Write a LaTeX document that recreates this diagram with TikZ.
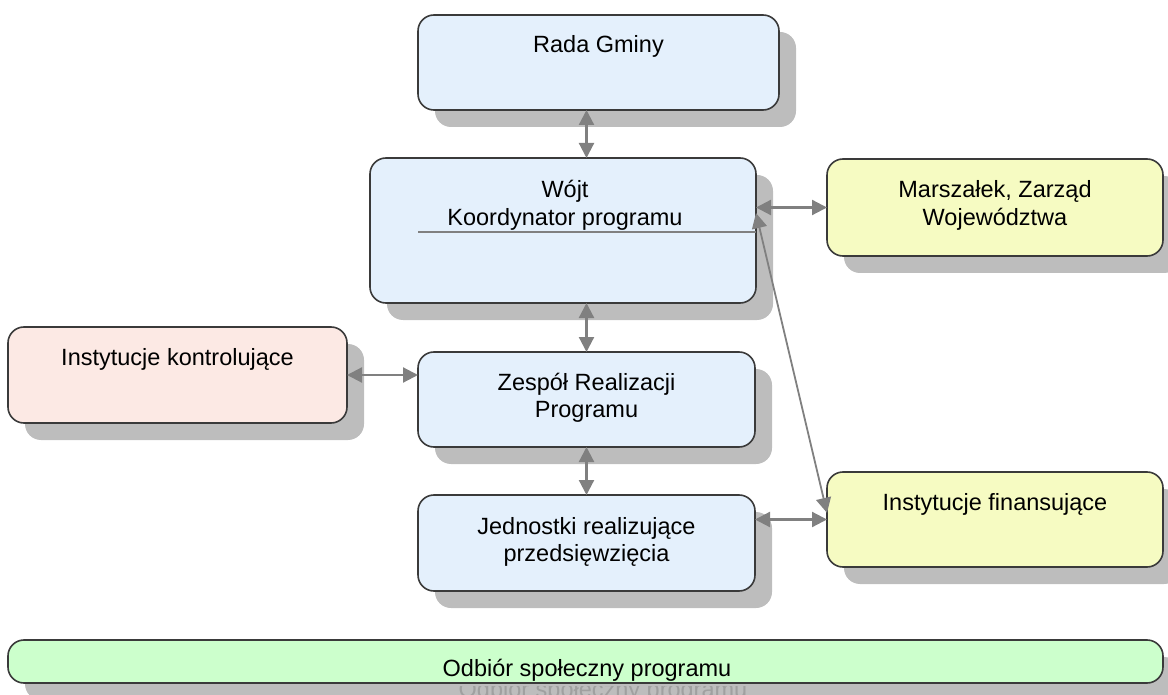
\documentclass[tikz,border=0pt]{standalone}
\usepackage{fontspec}
\setmainfont{Liberation Sans}
\usetikzlibrary{shadows,arrows.meta,calc}
\definecolor{boxblue}{HTML}{E4F0FC}
\definecolor{boxyellow}{HTML}{F6FBC2}
\definecolor{boxpink}{HTML}{FCE9E4}
\definecolor{boxgreen}{HTML}{CCFFCC}
\definecolor{shadowgray}{HTML}{BDBDBD}
\definecolor{arrowgray}{HTML}{808080}
\definecolor{bordergray}{HTML}{3A3A3A}
\definecolor{ghostgray}{HTML}{A0A0A0}
\begin{document}
\begin{tikzpicture}[x=1pt,y=-1pt,
  box/.style={rectangle, rounded corners=16pt, draw=bordergray, line width=1.6pt,
    inner sep=0pt, outer sep=0pt,
    drop shadow={shadow xshift=17pt, shadow yshift=-17pt, fill=shadowgray, opacity=1}},
  bluebox/.style={box, fill=boxblue},
  yellowbox/.style={box, fill=boxyellow},
  pinkbox/.style={box, fill=boxpink},
  greenbox/.style={box, fill=boxgreen},
  txt/.style={font=\fontsize{23.5}{27.5}\selectfont, align=center, inner sep=0pt, anchor=base, text=black},
  conn/.style={draw=arrowgray, line width=2.2pt, {Triangle[length=15pt,width=15pt]}-{Triangle[length=15pt,width=15pt]}},
  diag/.style={draw=arrowgray, line width=1.8pt, {Triangle[length=15pt,width=15pt]}-{Triangle[length=15pt,width=15pt]}},
  sepline/.style={draw=arrowgray, line width=1.5pt}]
\useasboundingbox (0,0) rectangle (1168,695);

% boxes
\node[bluebox, minimum width=361pt, minimum height=95pt] (rada) at (598.5,62.5) {};
\node[bluebox, minimum width=386pt, minimum height=145pt] (wojt) at (563,230.5) {};
\node[yellowbox, minimum width=336pt, minimum height=97pt] (marsz) at (995,207.5) {};
\node[pinkbox, minimum width=339pt, minimum height=96pt] (kontr) at (177.5,375) {};
\node[bluebox, minimum width=337pt, minimum height=95pt] (zesp) at (586.5,399.5) {};
\node[bluebox, minimum width=337pt, minimum height=96pt] (jedn) at (586.5,543) {};
\node[yellowbox, minimum width=336pt, minimum height=95pt] (fin) at (995,519.5) {};
\node[greenbox, minimum width=1155pt, minimum height=43pt] (odb) at (585.5,661.5) {};

% texts (base anchor = baseline of the last line)
\node[txt] (radaT) at (598.5,53) {Rada Gminy};
\node[txt] (wojtT) at (565,225.5) {Wójt\\Koordynator programu};
\node[txt] (marszT) at (995,225.5) {Marszałek, Zarząd\\Województwa};
\node[txt] (kontrT) at (177.5,365) {Instytucje kontrolujące};
\node[txt] (zespT) at (586.5,417.5) {Zespół Realizacji\\Programu};
\node[txt] (jednT) at (586.5,561.5) {Jednostki realizujące\\przedsięwzięcia};
\node[txt] (finT) at (995,510) {Instytucje finansujące};
\begin{scope}
  \clip (8,640) rectangle (1163,680);
  \node[txt] (odbT) at (587,676) {Odbiór społeczny programu};
\end{scope}
\begin{scope}
  \clip (20,686) rectangle (1168,695);
  \node[txt, text=ghostgray] (odbG) at (603,697) {Odbiór społeczny programu};
\end{scope}

% line inside Wojt box
\coordinate (wl) at (418,232);
\draw[sepline] (wl) -- (wl -| wojt.east);

% connectors
\draw[conn] (rada.south -| zesp.north) -- (wojt.north -| zesp.north);
\draw[conn] (wojt.south -| zesp.north) -- (zesp.north);
\draw[conn] (zesp.south) -- (jedn.north);
\draw[conn] (kontr.east) -- (kontr.east -| zesp.west);
\draw[conn] (marsz.west -| wojt.east) -- (marsz.west);
\draw[conn] (fin.west -| jedn.east) -- (fin.west);
\draw[diag] ($(wojt.north east)!0.38!(wojt.south east)$) -- ($(fin.north west)!0.43!(fin.south west)$);
\end{tikzpicture}
\end{document}
